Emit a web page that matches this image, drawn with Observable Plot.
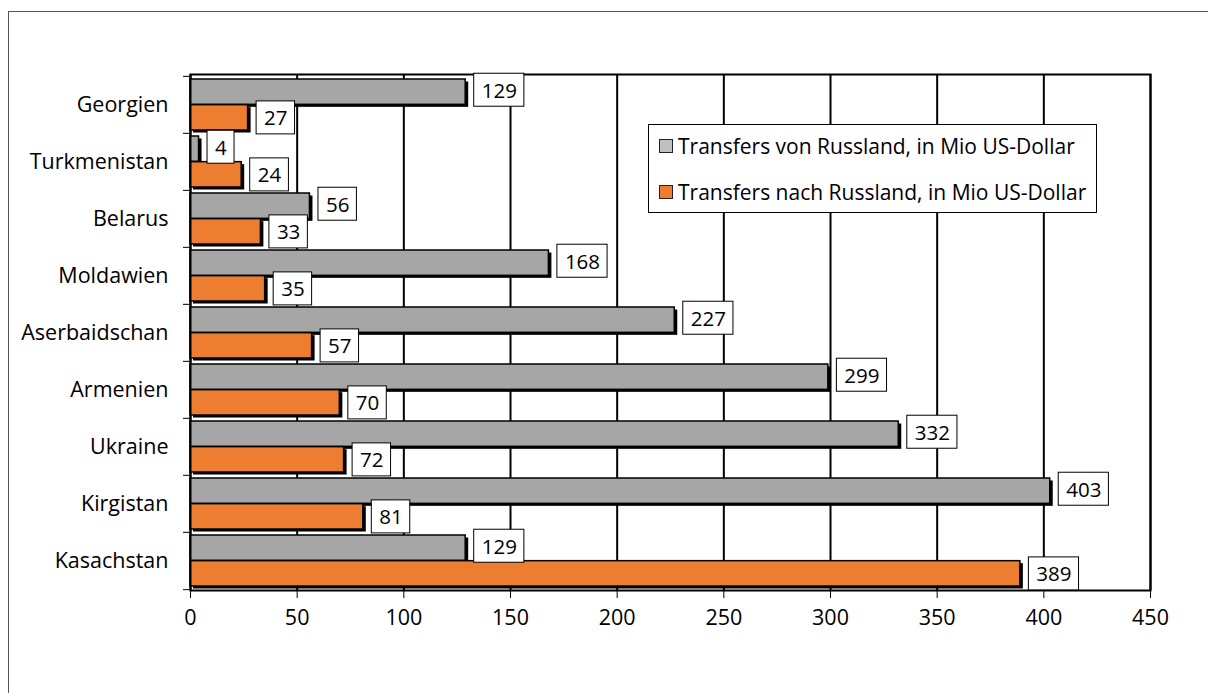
<!DOCTYPE html>
<html>
<head>
<meta charset="utf-8">
<script src="https://cdn.jsdelivr.net/npm/d3@7"></script>
<script src="https://cdn.jsdelivr.net/npm/@observablehq/plot@0.6"></script>
<style>
  html, body { margin: 0; padding: 0; background: white; }
  #wrap { position: relative; width: 1208px; height: 693px; overflow: hidden; font-family: "Open Sans", sans-serif; }
  #outer { position: absolute; left: 8px; top: 11px; width: 1400px; height: 900px; border-left: 1.5px solid #555; border-top: 1.5px solid #555; pointer-events: none; }
  #legend { position: absolute; left: 648px; top: 124px; width: 447px; height: 87px; border: 1.5px solid #000; background: white; font-size: 21px; color: #000; }
  .row { position: absolute; left: 10px; display: flex; align-items: center; white-space: nowrap; }
  .sw { width: 12px; height: 12px; border: 1px solid #222; margin-right: 5px; }
</style>
</head>
<body>
<div id="wrap">
  <div id="chart"></div>
  <div id="outer"></div>
  <div id="legend"></div>
</div>
<script>
const countries = ["Georgien","Turkmenistan","Belarus","Moldawien","Aserbaidschan","Armenien","Ukraine","Kirgistan","Kasachstan"];
const fromRussia = [129, 4, 56, 168, 227, 299, 332, 403, 129];
const toRussia = [27, 24, 33, 35, 57, 70, 72, 81, 389];
const seriesNames = ["Transfers von Russland, in Mio US-Dollar", "Transfers nach Russland, in Mio US-Dollar"];
const seriesColors = ["#A6A6A6", "#ED7D31"];
const legendColors = ["#C0C0C0", "#ED7D31"];
const xTicks = [0, 50, 100, 150, 200, 250, 300, 350, 400, 450];

const data = countries.map((c, i) => ({country: c, from: fromRussia[i], to: toRussia[i]}));

const W = 1208, H = 693;
const mt = 74, mb = 103, ml = 190, mr = 58;
const step = (H - mt - mb) / countries.length;
const half = step / 2;
const outerInset = 3;

const plot = Plot.plot({
  width: W, height: H,
  marginTop: mt, marginBottom: mb, marginLeft: ml, marginRight: mr,
  style: {background: "transparent", fontFamily: "Open Sans", color: "#000"},
  x: {domain: [0, 450]},
  y: {domain: countries, padding: 0},
  marks: [
    Plot.ruleX(xTicks, {x: d => d, stroke: "#000", strokeWidth: 2}),
    // shadows
    Plot.barX(data, {y: "country", x: "from", fill: "#000", dx: 3, dy: 2.5, insetTop: outerInset, insetBottom: half}),
    Plot.barX(data, {y: "country", x: "to", fill: "#000", dx: 3, dy: 2.5, insetTop: half, insetBottom: outerInset}),
    // bars
    Plot.barX(data, {y: "country", x: "from", fill: seriesColors[0], stroke: "#000", strokeWidth: 1.5, insetTop: outerInset, insetBottom: half}),
    Plot.barX(data, {y: "country", x: "to", fill: seriesColors[1], stroke: "#000", strokeWidth: 1.5, insetTop: half, insetBottom: outerInset}),
    Plot.frame({stroke: "#000", strokeWidth: 2}),
    Plot.axisX({ticks: xTicks, tickSize: 8, tickPadding: 11, fontSize: 21.5, tickFormat: d => String(d), label: null, stroke: "#000"}),
    Plot.axisY({tickSize: 0, tickPadding: 22, fontSize: 21.5, label: null}),
    Plot.axisY({tickSize: 7, text: null, dy: -half, label: null, stroke: "#000"}),
    Plot.axisY({ticks: [countries[countries.length - 1]], tickSize: 7, text: null, dy: half, label: null, stroke: "#000"}),
    // labels
    Plot.text(data, {y: "country", x: "from", text: d => String(d.from), textAnchor: "start", dx: 16, dy: -(half - outerInset) / 2 - 1, fontSize: 20.5, fill: "#000", className: "boxlab"}),
    Plot.text(data, {y: "country", x: "to", text: d => String(d.to), textAnchor: "start", dx: 16, dy: (half - outerInset) / 2 + 1, fontSize: 20.5, fill: "#000", className: "boxlab"})
  ]
});

document.getElementById("chart").appendChild(plot);

// white boxes behind value labels
plot.querySelectorAll(".boxlab text").forEach(t => {
  const b = t.getBBox();
  const r = document.createElementNS("http://www.w3.org/2000/svg", "rect");
  const cy = b.y + b.height / 2;
  r.setAttribute("x", b.x - 8);
  r.setAttribute("y", cy - 16.5);
  r.setAttribute("width", b.width + 15);
  r.setAttribute("height", 33);
  r.setAttribute("fill", "white");
  r.setAttribute("stroke", "#000");
  r.setAttribute("stroke-width", 1);
  const tr = t.getAttribute("transform");
  if (tr) r.setAttribute("transform", tr);
  t.parentNode.insertBefore(r, t);
});

// legend
const lg = document.getElementById("legend");
seriesNames.forEach((name, i) => {
  const row = document.createElement("div");
  row.className = "row";
  row.style.top = (i === 0 ? 7 : 53) + "px";
  const sw = document.createElement("div");
  sw.className = "sw";
  sw.style.background = legendColors[i];
  const tx = document.createElement("span");
  tx.textContent = name;
  row.appendChild(sw);
  row.appendChild(tx);
  lg.appendChild(row);
});
</script>
</body>
</html>
